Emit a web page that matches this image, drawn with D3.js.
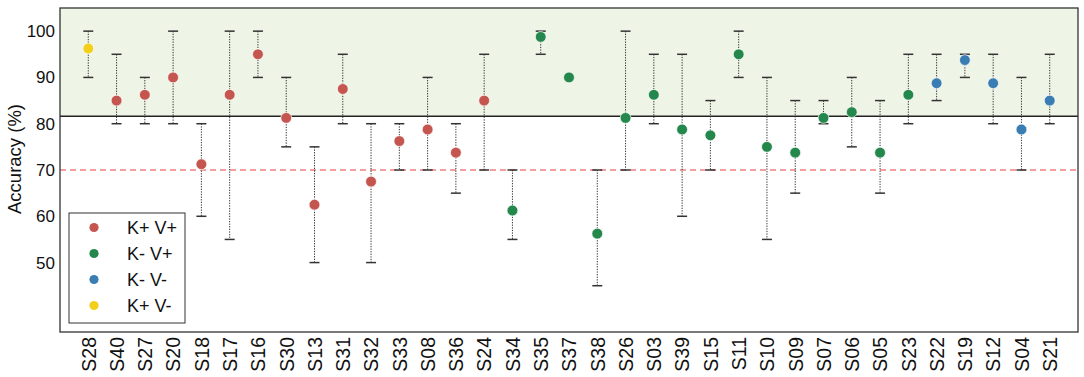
<!DOCTYPE html>
<html><head><meta charset="utf-8">
<script src="https://cdn.jsdelivr.net/npm/d3@7"></script>
<style>body{margin:0;background:#fff}svg{display:block}text{font-family:"Liberation Sans",Arial,sans-serif}</style>
</head><body><svg id="c" width="1084" height="377"></svg>
<script>
const subjects = ["S28","S40","S27","S20","S18","S17","S16","S30","S13","S31","S32","S33","S08","S36","S24","S34","S35","S37","S38","S26","S03","S39","S15","S11","S10","S09","S07","S06","S05","S23","S22","S19","S12","S04","S21"];
const accuracy = [96.25,85,86.25,90,71.25,86.25,95,81.25,62.5,87.5,67.5,76.25,78.75,73.75,85,61.25,98.75,90,56.25,81.25,86.25,78.75,77.5,95,75,73.75,81.25,82.5,73.75,86.25,88.75,93.75,88.75,78.75,85];
const errHigh = [100,95,90,100,80,100,100,90,75,95,80,80,90,80,95,70,100,90,70,100,95,95,85,100,90,85,85,90,85,95,95,95,95,90,95];
const errLow = [90,80,80,80,60,55,90,75,50,80,50,70,70,65,70,55,95,90,45,70,80,60,70,90,55,65,80,75,65,80,85,90,80,70,80];
const group = ["K+ V-","K+ V+","K+ V+","K+ V+","K+ V+","K+ V+","K+ V+","K+ V+","K+ V+","K+ V+","K+ V+","K+ V+","K+ V+","K+ V+","K+ V+","K- V+","K- V+","K- V+","K- V+","K- V+","K- V+","K- V+","K- V+","K- V+","K- V+","K- V+","K- V+","K- V+","K- V+","K- V+","K- V-","K- V-","K- V-","K- V-","K- V-"];
const legendGroups = ["K+ V+","K- V+","K- V-","K+ V-"];
const groupColors = ["#c4554f","#24884c","#3a7db3","#f3cf1c"];
const yTicks = [50,60,70,80,90,100];
const meanLine = 81.6;
const chanceLine = 70;

const svg = d3.select("#c");
const L=60,R=1078,T=8,B=332;
const x = d3.scaleLinear().domain([-1, subjects.length]).range([L,R]);
const y = d3.scaleLinear().domain([35,105]).range([B,T]);
const color = d3.scaleOrdinal().domain(legendGroups).range(groupColors);

svg.append("rect").attr("x",L).attr("y",y(105)).attr("width",R-L).attr("height",y(meanLine)-y(105)).attr("fill","#eff5e6");
svg.append("line").attr("x1",L).attr("x2",R).attr("y1",y(meanLine)).attr("y2",y(meanLine)).attr("stroke","#222").attr("stroke-width",1.5);
svg.append("line").attr("x1",L).attr("x2",R).attr("y1",y(chanceLine)).attr("y2",y(chanceLine)).attr("stroke","#f08080").attr("stroke-width",1.3).attr("stroke-dasharray","6,4");

const g = svg.append("g");
subjects.forEach((s,i)=>{
  const cx = x(i);
  if (errHigh[i]!==errLow[i]) {
    g.append("line").attr("x1",cx).attr("x2",cx).attr("y1",y(errHigh[i])).attr("y2",y(errLow[i])).attr("stroke","#333").attr("stroke-width",1).attr("stroke-dasharray","1.3,1.3");
    [errHigh[i],errLow[i]].forEach(v=>g.append("line").attr("x1",cx-5).attr("x2",cx+5).attr("y1",y(v)).attr("y2",y(v)).attr("stroke","#333").attr("stroke-width",1.5));
  }
});
subjects.forEach((s,i)=>{
  g.append("circle").attr("cx",x(i)).attr("cy",y(accuracy[i])).attr("r",5.4).attr("fill",color(group[i])).attr("stroke","#fff").attr("stroke-width",0.7);
});

svg.append("rect").attr("x",L).attr("y",T).attr("width",R-L).attr("height",B-T).attr("fill","none").attr("stroke","#333").attr("stroke-width",1.3);

const yAxis = svg.append("g").attr("transform",`translate(${L},0)`).call(d3.axisLeft(y).tickValues(yTicks).tickSize(0).tickPadding(5));
yAxis.select(".domain").remove();
yAxis.selectAll("text").attr("font-size",17).attr("fill","#111").attr("font-family","Liberation Sans, Arial, sans-serif");

const xAxis = svg.append("g").attr("transform",`translate(0,${B})`).call(d3.axisBottom(x).tickValues(d3.range(subjects.length)).tickFormat(i=>subjects[i]).tickSize(0));
xAxis.select(".domain").remove();
xAxis.selectAll("text").attr("font-size",19.5).attr("fill","#111").attr("font-family","Liberation Sans, Arial, sans-serif")
  .attr("transform","rotate(-90)").attr("text-anchor","end").attr("x",-5).attr("y",0).attr("dy","0.35em");

svg.append("text").attr("transform",`translate(21,159) rotate(-90)`).attr("text-anchor","middle").attr("font-size",18.5).attr("fill","#111").text("Accuracy (%)");

const lg = svg.append("g");
lg.append("rect").attr("x",69).attr("y",213).attr("width",116).attr("height",110).attr("fill","#fff").attr("stroke","#333").attr("stroke-width",1);
legendGroups.forEach((k,i)=>{
  const yy = 227.5 + i*26;
  lg.append("circle").attr("cx",94).attr("cy",yy).attr("r",4.6).attr("fill",color(k));
  lg.append("text").attr("x",127).attr("y",yy).attr("dy","0.35em").attr("font-size",18).attr("fill","#111").text(k);
});
</script></body></html>
